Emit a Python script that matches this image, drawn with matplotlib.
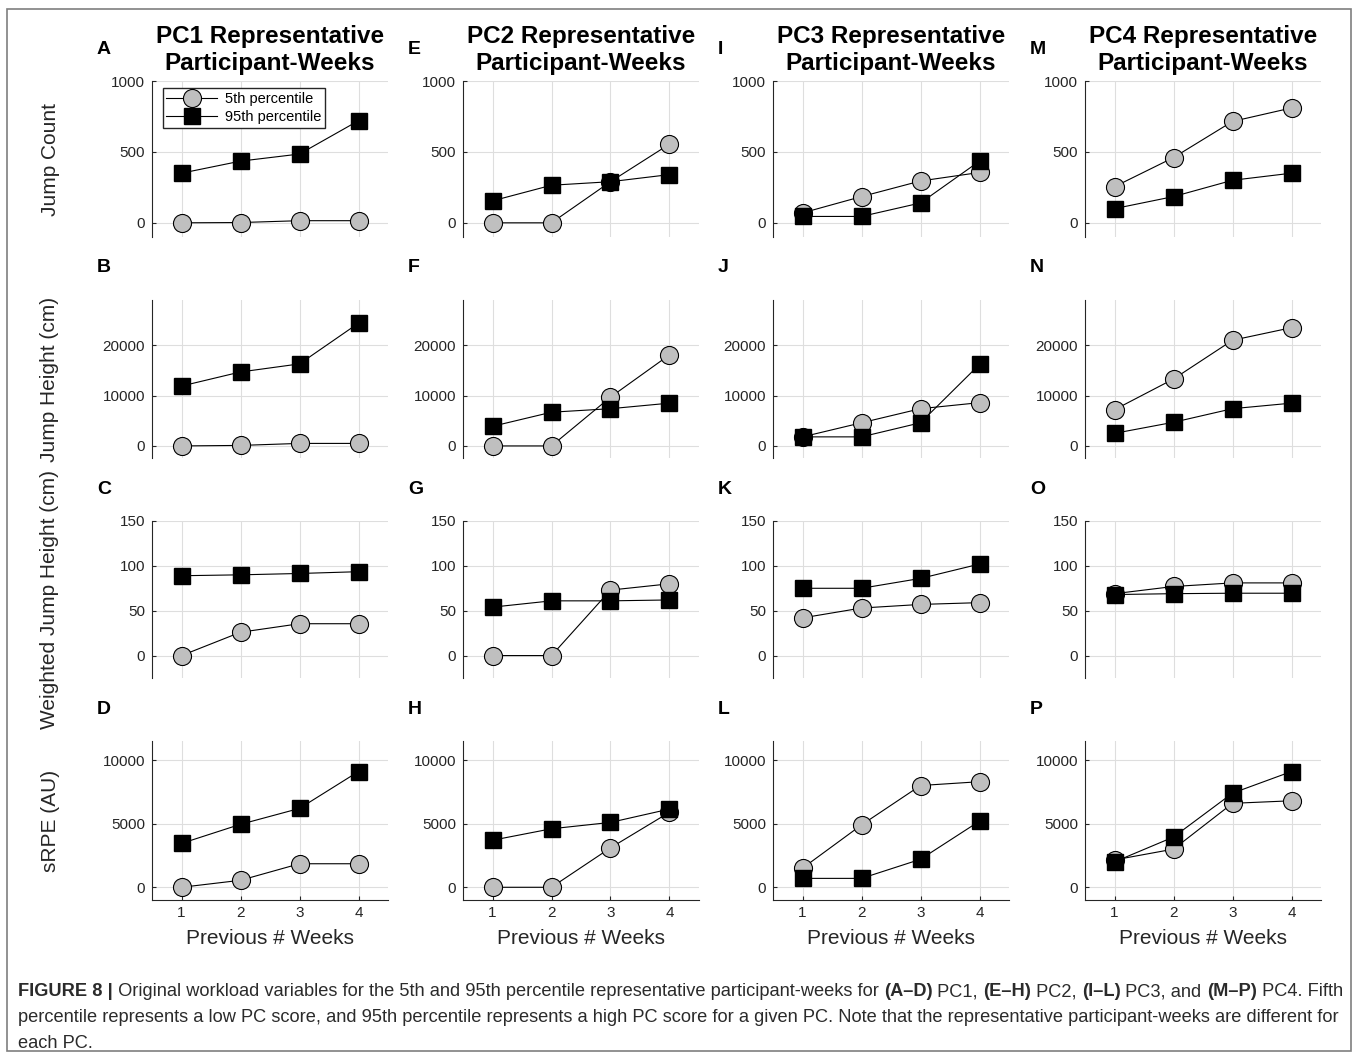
import matplotlib
matplotlib.use('Agg')
import matplotlib.pyplot as plt
from matplotlib import font_manager
from matplotlib.patches import Rectangle

plt.rcParams['font.family'] = ['Liberation Sans', 'DejaVu Sans']

# ---- data ----
weeks = [1, 2, 3, 4]
col_titles = ['PC1 Representative\nParticipant-Weeks',
              'PC2 Representative\nParticipant-Weeks',
              'PC3 Representative\nParticipant-Weeks',
              'PC4 Representative\nParticipant-Weeks']
row_labels = ['Jump Count', 'Jump Height (cm)',
              'Weighted Jump Height (cm)', 'sRPE (AU)']
panel_letters = ['ABCD', 'EFGH', 'IJKL', 'MNOP']
legend_labels = ['5th percentile', '95th percentile']

# one list per PC (PC1..PC4), values for weeks 1..4
jump_count_p5 = [[0, 2, 15, 15], [0, 0, 290, 555],
                 [70, 185, 295, 355], [255, 460, 715, 810]]
jump_count_p95 = [[350, 435, 485, 720], [155, 265, 290, 340],
                  [45, 45, 140, 435], [100, 185, 300, 350]]
jump_height_p5 = [[0, 100, 500, 500], [0, 0, 9700, 18100],
                  [1800, 4600, 7400, 8600], [7200, 13300, 21000, 23500]]
jump_height_p95 = [[11900, 14700, 16300, 24400], [3900, 6700, 7400, 8500],
                   [1800, 1800, 4600, 16200], [2500, 4700, 7400, 8500]]
weighted_p5 = [[0, 26, 35.5, 35.5], [0, 0, 73, 80],
               [42, 53, 57, 59], [69, 77, 81, 81]]
weighted_p95 = [[89, 90, 91.5, 93.5], [54, 61, 61, 62],
                [75, 75, 86, 102], [68, 69, 69.5, 69.5]]
srpe_p5 = [[0, 550, 1850, 1850], [0, 0, 3100, 5900],
           [1500, 4900, 8000, 8300], [2150, 3000, 6600, 6800]]
srpe_p95 = [[3450, 4950, 6200, 9100], [3700, 4600, 5100, 6150],
            [700, 700, 2200, 5200], [2000, 3950, 7400, 9100]]

y_limits = [(-100, 1000), (-2400, 29000), (-25, 150), (-1000, 11500)]
y_ticks = [[0, 500, 1000], [0, 10000, 20000], [0, 50, 100, 150],
           [0, 5000, 10000]]

caption_lines = [
    [('FIGURE 8 |', 'bold'),
     (' Original workload variables for the 5th and 95th percentile '
      'representative participant-weeks for ', 'normal'),
     ('(A–D)', 'bold'), (' PC1, ', 'normal'), ('(E–H)', 'bold'),
     (' PC2, ', 'normal'), ('(I–L)', 'bold'), (' PC3, and ', 'normal'),
     ('(M–P)', 'bold'), (' PC4. Fifth', 'normal')],
    [('percentile represents a low PC score, and 95th percentile represents '
      'a high PC score for a given PC. Note that the representative '
      'participant-weeks are different for', 'normal')],
    [('each PC.', 'normal')],
]

W, H = 1358, 1058
fig = plt.figure(figsize=(W / 100, H / 100), dpi=100)

col_left = [152, 463, 773, 1085]
col_width = 236
row_span = [(81, 237), (300, 458), (521, 678), (741, 900)]
dark = '#262626'

p5_data = [jump_count_p5, jump_height_p5, weighted_p5, srpe_p5]
p95_data = [jump_count_p95, jump_height_p95, weighted_p95, srpe_p95]

for c in range(4):
    for r in range(4):
        top, bot = row_span[r]
        ax = fig.add_axes([col_left[c] / W, 1 - bot / H,
                           col_width / W, (bot - top) / H])
        ax.plot(weeks, p5_data[r][c], '-o', color='black', lw=0.8,
                ms=13, mfc='#bfbfbf', mec='black', mew=0.8,
                label=legend_labels[0], zorder=3)
        ax.plot(weeks, p95_data[r][c], '-s', color='black', lw=0.8,
                ms=11, mfc='black', mec='black',
                label=legend_labels[1], zorder=3)
        ax.set_xlim(0.5, 4.5)
        ax.set_ylim(*y_limits[r])
        ax.set_xticks(weeks)
        ax.set_yticks(y_ticks[r])
        ax.grid(True, color='#dedede', lw=0.8)
        ax.set_axisbelow(True)
        for s in ['top', 'right']:
            ax.spines[s].set_visible(False)
        ax.spines['left'].set_color(dark)
        ax.spines['left'].set_linewidth(0.8)
        ax.tick_params(axis='y', direction='in', length=3, color=dark,
                       labelcolor=dark, labelsize=11, pad=5)
        if r == 3:
            ax.spines['bottom'].set_color(dark)
            ax.spines['bottom'].set_linewidth(0.8)
            ax.tick_params(axis='x', direction='in', length=3, color=dark,
                           labelcolor=dark, labelsize=11, pad=4)
            ax.set_xlabel('Previous # Weeks', fontsize=15, color=dark,
                          labelpad=7)
        else:
            ax.spines['bottom'].set_visible(False)
            ax.tick_params(axis='x', length=0, labelbottom=False)
        # panel letter
        fig.text((col_left[c] - 55) / W, 1 - (top - 32) / H,
                 panel_letters[c][r], fontsize=14, fontweight='bold',
                 ha='left', va='center')
        if c == 0 and r == 0:
            ax.legend(loc='upper left', bbox_to_anchor=(0.045, 0.955),
                      fontsize=10.5, frameon=True, fancybox=False,
                      edgecolor=dark, framealpha=1, borderpad=0.25,
                      labelspacing=0.3, handlelength=3.5,
                      handletextpad=0.5, borderaxespad=0)
    fig.text((col_left[c] + col_width / 2) / W, 1 - 50 / H, col_titles[c],
             fontsize=17.5, fontweight='bold', ha='center', va='center',
             linespacing=1.2)

for r in range(4):
    top, bot = row_span[r]
    fig.text(50 / W, 1 - (top + bot) / 2 / H, row_labels[r], rotation=90,
             fontsize=15, color=dark, ha='center', va='center')

# caption, drawn piece by piece so bold parts sit inline
try:
    font_manager.findfont('Liberation Sans Narrow', fallback_to_default=False)
    cap_font = ['Liberation Sans Narrow', 'DejaVu Sans']
except ValueError:
    cap_font = ['Liberation Sans', 'DejaVu Sans']

renderer = fig.canvas.get_renderer()
cap_size = 13


def line_width(segments, size):
    total = 0
    for text, weight in segments:
        t = fig.text(0, 0, text, fontsize=size, fontweight=weight,
                     family=cap_font)
        total += t.get_window_extent(renderer).width
        t.remove()
    return total


# fit the first line to the width it takes in the original
cap_size = cap_size * 1322 / line_width(caption_lines[0], cap_size)
cap_y = [992, 1018, 1043]
for segments, y in zip(caption_lines, cap_y):
    x = 18
    for text, weight in segments:
        t = fig.text(x / W, 1 - y / H, text, fontsize=cap_size,
                     fontweight=weight, family=cap_font, color='#2b2b2b',
                     ha='left', va='center')
        x += t.get_window_extent(renderer).width

fig.patches.append(Rectangle((7 / W, 1 - 1051 / H), (1351 - 7) / W,
                             (1051 - 9) / H, transform=fig.transFigure,
                             fill=False, edgecolor='#7f7f7f', lw=1.2))

fig.savefig('out.png', dpi=100)
